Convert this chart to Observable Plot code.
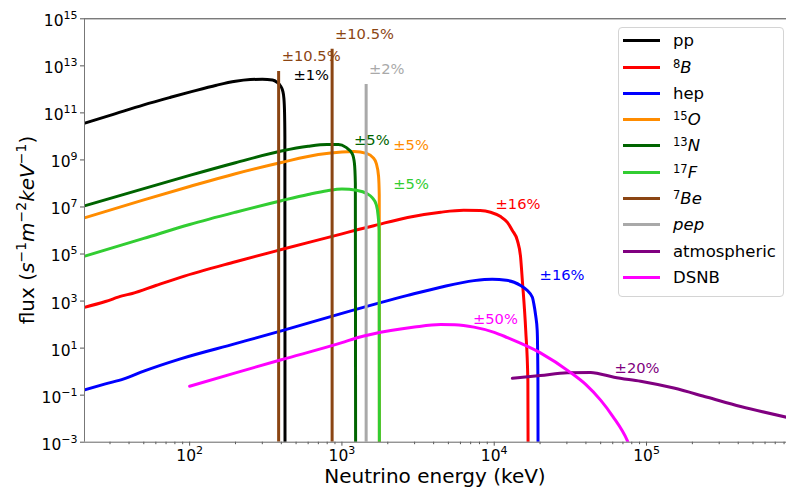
<!DOCTYPE html>
<html><head><meta charset="utf-8">
<script src="https://cdn.jsdelivr.net/npm/d3@7"></script>
<script src="https://cdn.jsdelivr.net/npm/@observablehq/plot@0.6"></script>
<style>
body{margin:0;background:#fff;font-family:"DejaVu Sans",sans-serif;}
#wrap{position:relative;width:786px;height:487px;overflow:hidden;}
#legend{position:absolute;left:618px;top:27px;width:166px;height:270px;border:1px solid #d4d4d4;border-radius:4px;background:rgba(255,255,255,0.85);box-sizing:border-box;}
.row{position:absolute;left:0;height:22px;display:flex;align-items:center;font-size:16.5px;color:#000;white-space:nowrap;}
.sw{width:37px;height:3px;margin-left:4px;margin-right:13px;}
.row sup{font-size:70%;font-style:normal;vertical-align:0.45em;line-height:0;}
</style></head>
<body><div id="wrap"></div>
<script>
// axes
const xDomain = [20.4, 8.3e5];
const yDomain = [1e-3, 1e15];
const xMajor = [1e2, 1e3, 1e4, 1e5];
const yMajor = [1e-3, 1e-1, 1e1, 1e3, 1e5, 1e7, 1e9, 1e11, 1e13, 1e15];

// pp
const ppE = [20, 30, 50, 75, 100, 150, 200, 250, 300, 350, 375, 395, 408, 416, 420, 422, 423];
const ppF = [3.5e10, 7.8e10, 2.2e11, 4.6e11, 7.6e11, 1.5e12, 2.2e12, 2.6e12, 2.7e12, 2.5e12, 2.0e12, 1.4e12, 8.9e11, 4.0e11, 1e11, 1e10, 1e-4];
// 8B
const b8E = [20, 28, 36, 42, 60, 87, 200, 400, 1000, 1260, 1620, 2700, 4450, 6300, 8100, 9460, 11000, 12200, 13150, 14200, 14900, 15300, 16100, 16630, 16700];
const b8F = [525, 955, 1.66e3, 2.1e3, 4.6e3, 1.02e4, 4.7e4, 1.55e5, 7.2e5, 1.07e6, 1.6e6, 3.6e6, 6.0e6, 7.2e6, 7.1e6, 6.0e6, 3.9e6, 2.2e6, 1.0e6, 3.7e5, 7.2e4, 7.4e3, 56, 0.42, 1e-4];
// hep
const hepE = [20, 28, 37, 50, 87, 200, 400, 1000, 2700, 4450, 7360, 9700, 12000, 13500, 14900, 16500, 17800, 18200, 18700, 19150, 19360, 19400];
const hepF = [0.16, 0.30, 0.49, 1.05, 3.5, 15.5, 54, 300, 1.74e3, 3.9e3, 7.4e3, 8.5e3, 7.6e3, 6.3e3, 4.6e3, 2.8e3, 1.45e3, 760, 250, 56, 0.42, 1e-4];
// 15O
const o15E = [20, 50, 100, 200, 400, 700, 1000, 1200, 1450, 1600, 1680, 1740, 1758, 1762];
const o15F = [3.3e6, 2.0e7, 7.4e7, 2.6e8, 7.8e8, 1.7e9, 2.2e9, 2.3e9, 1.9e9, 1.26e9, 7.1e8, 2.0e8, 3.2e7, 1e-4];
// 13N
const n13E = [20, 50, 100, 200, 400, 600, 800, 950, 1057, 1170, 1208, 1225, 1230];
const n13F = [1.07e7, 6.0e7, 2.2e8, 7.6e8, 2.4e9, 3.8e9, 4.5e9, 4.5e9, 3.5e9, 1.8e9, 7.1e8, 1e8, 1e-4];
// 17F
const f17E = [20, 50, 100, 200, 400, 600, 800, 1000, 1250, 1450, 1580, 1680, 1730, 1755, 1762];
const f17F = [7.8e4, 4.6e5, 1.8e6, 6.0e6, 1.85e7, 3.4e7, 4.9e7, 5.8e7, 5.1e7, 3.8e7, 2.5e7, 1.26e7, 4.0e6, 1.0e6, 1e-4];
// 7Be and pep lines
const be7E = [384, 862];
const be7F = [5.8e12, 5.1e13];
const pepE = [1442];
const pepF = [1.6e12];
// atmospheric
const atmE = [13150, 20100, 30200, 43000, 48800, 61200, 91400, 151000, 251000, 415000, 832000];
const atmF = [0.52, 0.68, 0.89, 0.93, 0.81, 0.58, 0.39, 0.20, 0.081, 0.033, 0.0115];
// DSNB
const dsnbE = [100, 200, 400, 1000, 1260, 2090, 3000, 4450, 5500, 7360, 10000, 12200, 20100, 31600, 40000, 50100, 60000, 74800, 80000];
const dsnbF = [0.24, 0.89, 3.2, 17, 27.5, 56, 79, 100, 98, 78, 47, 28, 6.3, 0.93, 0.28, 0.060, 0.0126, 0.00117, 0.0004];

// annotations
const annoLabel = ["±10.5%", "±10.5%", "±1%", "±2%", "±5%", "±5%", "±5%", "±16%", "±16%", "±50%", "±20%"];
const annoE = [402, 900, 480, 1503, 1200, 2173, 2173, 10200, 19860, 7250, 61700];
const annoF = [2.5e13, 2.3e14, 3.8e12, 7.4e12, 6.8e9, 4.1e9, 9.5e7, 1.26e7, 1.23e4, 164, 1.4];
const annoColor = ["#8b4513", "#8b4513", "#000000", "#a9a9a9", "#006400", "#ff8c00", "#32cd32", "#ff0000", "#0000ff", "#ff00ff", "#800080"];

// legend
const legendLabels = ["pp", "<sup>8</sup><i>B</i>", "hep", "<sup>15</sup><i>O</i>", "<sup>13</sup><i>N</i>", "<sup>17</sup><i>F</i>", "<sup>7</sup><i>Be</i>", "<i>pep</i>", "atmospheric", "DSNB"];
const legendColors = ["#000000", "#ff0000", "#0000ff", "#ff8c00", "#006400", "#32cd32", "#8b4513", "#a9a9a9", "#800080", "#ff00ff"];

const rows = (E, F) => E.map((e, i) => ({E: e, F: F[i]}));
const lineMark = (E, F, color) => Plot.line(rows(E, F), {x: "E", y: "F", stroke: color, strokeWidth: 3, curve: "monotone-x", clip: true});
const ruleMark = (E, F, color) => Plot.ruleX(rows(E, F), {x: "E", y1: yDomain[0], y2: "F", stroke: color, strokeWidth: 3, clip: true});

const xMinor = [];
for (let k = 1; k <= 5; k++) for (let m = 2; m <= 9; m++) { const v = m * 10 ** k; if (v >= xDomain[0] && v <= xDomain[1]) xMinor.push(v); }

const expFmt = d => { const e = Math.round(Math.log10(d)); return (e < 0 ? "\u2212" : "") + Math.abs(e); };

const annoData = annoLabel.map((t, i) => ({t, E: annoE[i], F: annoF[i], c: annoColor[i]}));

const svg = Plot.plot({
  width: 786, height: 487,
  marginLeft: 84, marginRight: 0, marginTop: 18.3, marginBottom: 45.3,
  x: {type: "log", domain: xDomain},
  y: {type: "log", domain: yDomain},
  color: {type: "identity"},
  style: {fontFamily: "DejaVu Sans", fontSize: "15.5px", background: "white", overflow: "visible"},
  marks: [
    Plot.axisX({ticks: xMinor, tickSize: 2.5, tickFormat: () => "", label: null, stroke: "#555"}),
    Plot.axisX({ticks: xMajor, tickSize: 4, tickPadding: 4, tickFormat: expFmt, label: null, stroke: "#555", fill: "#000"}),
    Plot.axisY({ticks: yMajor, tickSize: 4, tickPadding: 3, tickFormat: expFmt, label: null, stroke: "#555", fill: "#000"}),
    lineMark(ppE, ppF, "#000000"),
    lineMark(b8E, b8F, "#ff0000"),
    lineMark(hepE, hepF, "#0000ff"),
    lineMark(o15E, o15F, "#ff8c00"),
    lineMark(n13E, n13F, "#006400"),
    lineMark(f17E, f17F, "#32cd32"),
    ruleMark(be7E, be7F, "#8b4513"),
    ruleMark(pepE, pepF, "#a9a9a9"),
    lineMark(atmE, atmF, "#800080"),
    lineMark(dsnbE, dsnbF, "#ff00ff"),
    Plot.text(annoData, {x: "E", y: "F", text: "t", fill: "c", textAnchor: "start", lineAnchor: "middle", fontSize: 14.7}),
    Plot.ruleY([yDomain[1]], {stroke: "#444", strokeWidth: 1}),
    Plot.ruleY([yDomain[0]], {stroke: "#666", strokeWidth: 1}),
    Plot.ruleX([xDomain[0]], {stroke: "#777", strokeWidth: 1})
  ]
});

// superscript tick labels: 10^n
const NS = "http://www.w3.org/2000/svg";
svg.querySelectorAll('g[aria-label="x-axis tick label"] text, g[aria-label="y-axis tick label"] text').forEach(t => {
  const e = t.textContent;
  if (!e) return;
  const isY = t.parentNode.getAttribute("aria-label").startsWith("y");
  t.textContent = "";
  const a = document.createElementNS(NS, "tspan");
  a.textContent = "10";
  if (isY) a.setAttribute("dy", "2.5");
  const b = document.createElementNS(NS, "tspan");
  b.textContent = e;
  b.setAttribute("dy", "-7");
  b.setAttribute("font-size", "11px");
  t.appendChild(a); t.appendChild(b);
});

// axis titles
const sel = d3.select(svg);
sel.append("text")
  .attr("x", 435).attr("y", 482.5).attr("text-anchor", "middle")
  .attr("font-size", 20).attr("fill", "#000").text("Neutrino energy (keV)");

const yl = sel.append("text")
  .attr("transform", "translate(34,230) rotate(-90)")
  .attr("text-anchor", "middle").attr("font-size", 20).attr("fill", "#000");
const parts = [["flux (", "n"], ["s", "i"], ["\u22121", "s"], ["m", "i"], ["\u22122", "s"], ["keV", "i"], ["\u22121", "s"], [")", "n"]];
let prevSup = false;
parts.forEach(([txt, kind]) => {
  const ts = yl.append("tspan").text(txt);
  if (kind === "i") ts.attr("font-style", "italic");
  if (kind === "s") { ts.attr("font-size", 14).attr("dy", -8); prevSup = true; }
  else if (prevSup) { ts.attr("dy", 8); prevSup = false; }
});

const wrap = document.getElementById("wrap");
wrap.appendChild(svg);

// legend
const leg = document.createElement("div");
leg.id = "legend";
legendLabels.forEach((lab, i) => {
  const r = document.createElement("div");
  r.className = "row";
  r.style.top = (13.7 + i * 26.3 - 11 - 1) + "px";
  r.innerHTML = `<span class="sw" style="background:${legendColors[i]}"></span><span>${lab}</span>`;
  leg.appendChild(r);
});
wrap.appendChild(leg);
</script>
</body></html>
